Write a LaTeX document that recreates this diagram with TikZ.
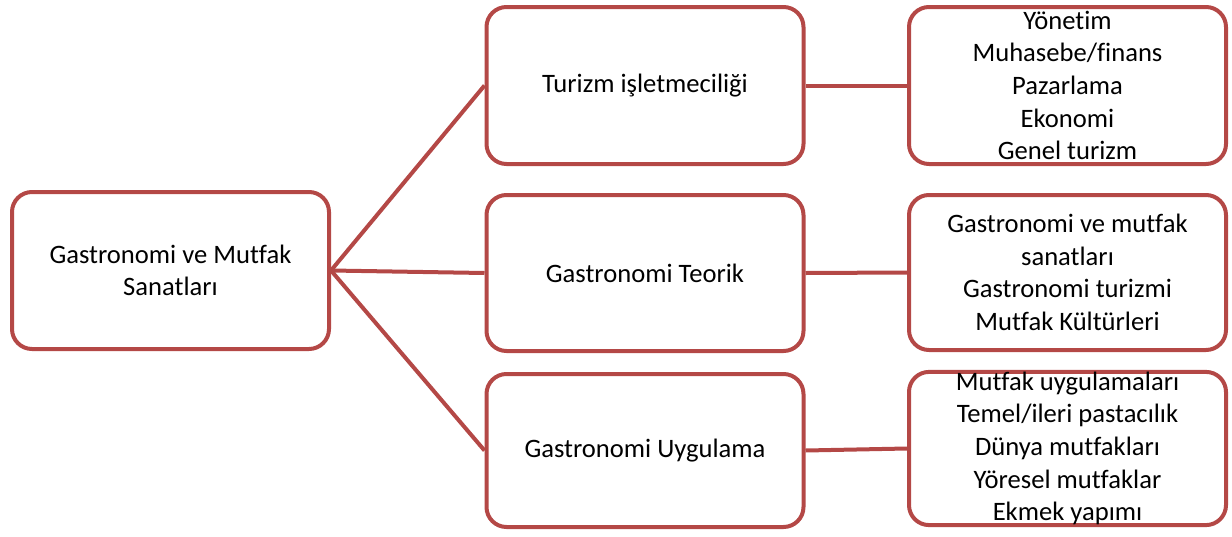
\documentclass[tikz,border=0pt]{standalone}
\usepackage{fontspec}
\setmainfont{Carlito}[Ligatures=NoCommon]
\definecolor{kirmizi}{RGB}{180,72,70}

\begin{document}
\begin{tikzpicture}[x=1pt, y=-1pt,
  kutu/.style={draw=kirmizi, line width=4pt, rounded corners=20pt,
    minimum width=317pt, inner sep=0pt, align=center,
    font=\fontsize{26.6}{32.6}\selectfont},
  bag/.style={draw=kirmizi, line width=4pt}]
\useasboundingbox (0,0) rectangle (1232,536);
% ana kutu
\node[kutu, minimum height=157pt] (ana) at (170.5,270.5)
  {Gastronomi ve Mutfak\\Sanatları};
% orta sutun
\node[kutu, minimum height=157pt] (turizm) at (645,85.5)
  {Turizm işletmeciliği};
\node[kutu, minimum height=156pt] (teorik) at (645,273)
  {Gastronomi Teorik};
\node[kutu, minimum height=153pt] (uygulama) at (645,450.5)
  {Gastronomi Uygulama};
% sag sutun
\node[kutu, minimum height=157pt] (dersA) at (1067.5,85.5)
  {Yönetim\\Muhasebe/finans\\Pazarlama\\Ekonomi\\Genel turizm};
\node[kutu, minimum height=155pt] (dersB) at (1067.5,272.5)
  {Gastronomi ve mutfak\\sanatları\\Gastronomi turizmi\\Mutfak Kültürleri};
\node[kutu, minimum height=153pt] (dersC) at (1067.5,448.5)
  {Mutfak uygulamaları\\Temel/ileri pastacılık\\Dünya mutfakları\\Yöresel mutfaklar\\Ekmek yapımı};
% baglantilar
\foreach \orta/\sag in {turizm/dersA, teorik/dersB, uygulama/dersC} {
  \draw[bag] (ana.east) -- (\orta.west);
  \draw[bag] (\orta.east) -- (\sag.west);
}
\end{tikzpicture}
\end{document}
